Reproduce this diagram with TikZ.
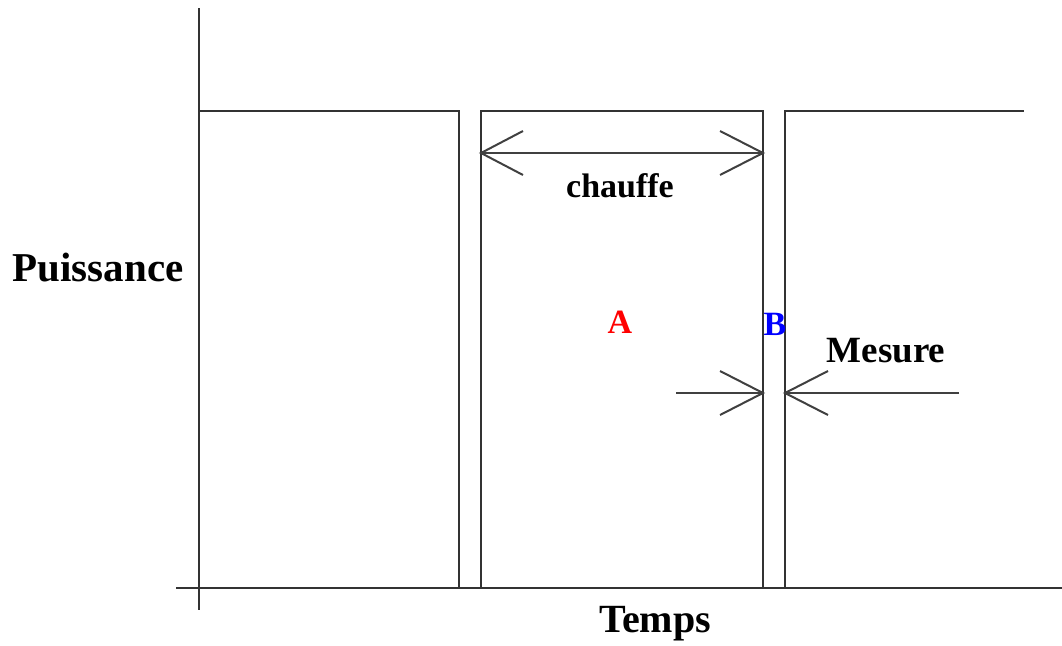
\documentclass[tikz,border=0pt]{standalone}
\usepackage{fontspec}
\setmainfont{Liberation Serif}
\begin{document}
\begin{tikzpicture}[x=1pt,y=-1pt,
  line/.style={draw=black!80,line width=2pt},
  barb/.style={draw=black!75,line width=2pt},
  lab/.style={font=\bfseries\fontsize{#1}{#1}\selectfont,inner sep=0pt},
  lab/.default=36]
\useasboundingbox (0,0) rectangle (1062,645);
% axes
\coordinate (yt) at (199,8);
\coordinate (yb) at (199,610);
\coordinate (xl) at (176,588);
\coordinate (xr) at (1062,588);
\draw[line] (yt) -- (yb);
\draw[line] (xl) -- (xr);
% pulses
\draw[line] (199,111) -- (459,111) -- (459,588);
\draw[line] (481,588) -- (481,111) -- (763,111) -- (763,588);
\draw[line] (785,588) -- (785,111) -- (1024,111);
% chauffe arrow
\coordinate (c1) at (481,153);
\coordinate (c2) at (763,153);
\draw[barb] (c1) -- (c2);
\draw[barb] (523,131) -- (c1) -- (523,175);
\draw[barb] (720,131) -- (c2) -- (720,175);
% mesure arrows
\coordinate (m1s) at (676,393);
\coordinate (m1) at (763,393);
\coordinate (m2s) at (959,393);
\coordinate (m2) at (785,393);
\draw[barb] (m1s) -- (m1);
\draw[barb] (720,371) -- (m1) -- (720,415);
\draw[barb] (m2s) -- (m2);
\draw[barb] (828,371) -- (m2) -- (828,415);
% labels
\node[lab=34] (chauffe) at (620,186) {chauffe};
\node[lab=41] (puiss) at (98,268) {Puissance};
\node[lab=40] (temps) at (655,624) {Temps};
\node[lab=34,text=red] (A) at (620,322) {A};
\node[lab=34,text=blue] (B) at (775,324) {B};
\node[lab=37] (mes) at (886,351) {Mesure};
\end{tikzpicture}
\end{document}
